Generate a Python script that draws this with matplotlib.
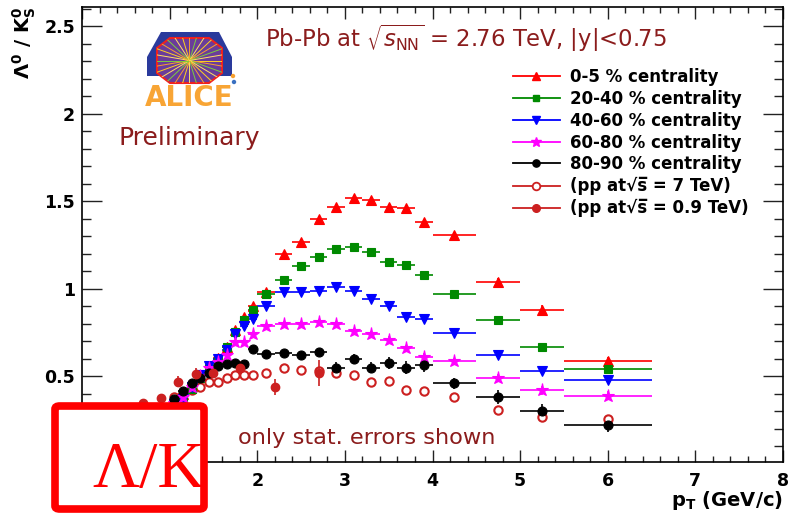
import matplotlib
matplotlib.use("Agg")
import matplotlib.pyplot as plt
from matplotlib.lines import Line2D
from matplotlib.patches import Polygon, FancyBboxPatch, Circle
from matplotlib.ticker import MultipleLocator, FuncFormatter
import numpy as np

# ---------------- data: Lambda/K0s ratio vs pT ----------------
pt = [1.05, 1.15, 1.25, 1.35, 1.45, 1.55, 1.65, 1.75, 1.85, 1.95,
      2.1, 2.3, 2.5, 2.7, 2.9, 3.1, 3.3, 3.5, 3.7, 3.9,
      4.25, 4.75, 5.25, 6.0]
pt_halfbin = [0.05, 0.05, 0.05, 0.05, 0.05, 0.05, 0.05, 0.05, 0.05, 0.05,
              0.1, 0.1, 0.1, 0.1, 0.1, 0.1, 0.1, 0.1, 0.1, 0.1,
              0.25, 0.25, 0.25, 0.5]

ratio_0_5 = [0.35, 0.40, 0.45, 0.51, 0.555, 0.605, 0.67, 0.765, 0.84, 0.90,
             0.98, 1.20, 1.27, 1.40, 1.47, 1.52, 1.51, 1.47, 1.46, 1.38,
             1.31, 1.04, 0.88, 0.59]
ratio_20_40 = [0.34, 0.36, 0.43, 0.49, 0.545, 0.60, 0.665, 0.755, 0.82, 0.88,
               0.97, 1.05, 1.13, 1.18, 1.23, 1.24, 1.21, 1.155, 1.135, 1.08,
               0.97, 0.82, 0.67, 0.54]
ratio_40_60 = [0.34, 0.37, 0.44, 0.51, 0.56, 0.60, 0.65, 0.74, 0.79, 0.83,
               0.90, 0.98, 0.98, 0.99, 1.01, 0.99, 0.94, 0.90, 0.84, 0.83,
               0.75, 0.62, 0.53, 0.48]
ratio_60_80 = [0.35, 0.38, 0.44, 0.50, 0.55, 0.58, 0.62, 0.695, 0.695, 0.74,
               0.79, 0.80, 0.80, 0.81, 0.80, 0.76, 0.74, 0.71, 0.66, 0.61,
               0.585, 0.49, 0.42, 0.39]
ratio_80_90 = [0.37, 0.415, 0.46, 0.49, 0.52, 0.56, 0.57, 0.575, 0.57, 0.655,
               0.625, 0.635, 0.62, 0.64, 0.55, 0.60, 0.55, 0.575, 0.55, 0.565,
               0.46, 0.38, 0.30, 0.22]

err_0_5 = [0.005, 0.005, 0.005, 0.006, 0.006, 0.007, 0.008, 0.009, 0.01, 0.01,
           0.01, 0.012, 0.012, 0.013, 0.014, 0.015, 0.016, 0.017, 0.018, 0.02,
           0.015, 0.02, 0.025, 0.02]
err_20_40 = [0.005, 0.005, 0.005, 0.006, 0.006, 0.007, 0.008, 0.009, 0.01, 0.01,
             0.01, 0.011, 0.012, 0.012, 0.013, 0.014, 0.015, 0.016, 0.017, 0.018,
             0.015, 0.018, 0.02, 0.02]
err_40_60 = [0.005, 0.005, 0.005, 0.006, 0.006, 0.007, 0.008, 0.009, 0.01, 0.01,
             0.01, 0.011, 0.012, 0.012, 0.013, 0.014, 0.015, 0.016, 0.017, 0.018,
             0.015, 0.018, 0.02, 0.02]
err_60_80 = [0.006, 0.006, 0.006, 0.007, 0.007, 0.008, 0.009, 0.01, 0.011, 0.012,
             0.012, 0.013, 0.014, 0.015, 0.016, 0.017, 0.018, 0.019, 0.02, 0.022,
             0.02, 0.022, 0.025, 0.025]
err_80_90 = [0.01, 0.01, 0.01, 0.01, 0.011, 0.012, 0.012, 0.013, 0.014, 0.015,
             0.015, 0.016, 0.017, 0.018, 0.03, 0.03, 0.032, 0.034, 0.036, 0.04,
             0.03, 0.04, 0.04, 0.04]

ratio_pp7 = [0.38, 0.40, 0.42, 0.44, 0.465, 0.47, 0.49, 0.505, 0.505, 0.51,
             0.52, 0.545, 0.535, 0.53, 0.52, 0.51, 0.465, 0.475, 0.42, 0.415,
             0.38, 0.31, 0.27, 0.255]

pt_pp09 = [0.7, 0.9, 1.1, 1.3, 1.5, 1.8, 2.2, 2.7]
ratio_pp09 = [0.35, 0.375, 0.47, 0.515, 0.52, 0.55, 0.44, 0.52]
err_pp09 = [0.02, 0.025, 0.03, 0.035, 0.03, 0.04, 0.045, 0.075]

labels = ["0-5 % centrality", "20-40 % centrality", "40-60 % centrality",
          "60-80 % centrality", "80-90 % centrality",
          "(pp at\u221as\u0305 = 7 TeV)", "(pp at\u221as\u0305 = 0.9 TeV)"]

# ---------------- figure ----------------
W, H = 789, 515
fig = plt.figure(figsize=(W / 100, H / 100), dpi=100)


def fx(px):
    return px / W


def fy(py):
    return 1 - py / H


ax = fig.add_axes([fx(82), fy(462), (783 - 82) / W, (462 - 7) / H])
ax.set_xlim(0, 8)
ax.set_ylim(0.01, 2.61)

styles = [
    dict(color="#ff0000", marker="^", ms=7),
    dict(color="#008a00", marker="s", ms=6),
    dict(color="#0000ff", marker="v", ms=7),
    dict(color="#ff00ff", marker="*", ms=9.5),
    dict(color="#000000", marker="o", ms=6.5),
]
series = [(ratio_0_5, err_0_5), (ratio_20_40, err_20_40), (ratio_40_60, err_40_60),
          (ratio_60_80, err_60_80), (ratio_80_90, err_80_90)]

for (vals, errs), st in zip(series, styles):
    ax.errorbar(pt, vals, xerr=pt_halfbin, yerr=errs, fmt=st["marker"],
                color=st["color"], ms=st["ms"], mec=st["color"], mfc=st["color"],
                elinewidth=1.2, capsize=0, mew=0.8)

pp_red = "#cc2020"
ax.plot(pt, ratio_pp7, linestyle="none", marker="o", ms=6, mfc="white",
        mec=pp_red, mew=1.5)
ax.errorbar(pt_pp09, ratio_pp09, yerr=err_pp09, fmt="o", color=pp_red, ms=6,
            elinewidth=1.2, capsize=0)

# ---------------- axes styling ----------------
ax.xaxis.set_major_locator(MultipleLocator(1))
ax.xaxis.set_minor_locator(MultipleLocator(0.2))
ax.yaxis.set_major_locator(MultipleLocator(0.5))
ax.yaxis.set_minor_locator(MultipleLocator(0.1))
# labels below 2 on x and at 0 on y sit under the Lambda/K box
ax.xaxis.set_major_formatter(FuncFormatter(lambda v, p: f"{v:g}" if v >= 2 else ""))
ax.yaxis.set_major_formatter(FuncFormatter(lambda v, p: f"{v:g}" if v > 0.2 else ""))
ax.tick_params(axis="both", which="both", direction="in", top=True, right=True,
               width=1.0, color="#222222")
ax.tick_params(axis="x", which="major", length=8.6, pad=7)
ax.tick_params(axis="x", which="minor", length=4.3)
ax.tick_params(axis="y", which="major", length=14.4, pad=5)
ax.tick_params(axis="y", which="minor", length=6.5)
for lab in ax.get_xticklabels() + ax.get_yticklabels():
    lab.set_fontweight("bold")
    lab.set_fontsize(12.5)
for sp in ax.spines.values():
    sp.set_linewidth(1.2)

ax.set_xlabel(r"$\mathbf{p_{T}}$ (GeV/c)", fontsize=14, fontweight="bold", loc="right")
ax.xaxis.set_label_coords(1.0, -0.059)
ax.set_ylabel(r"$\mathbf{\Lambda^{0}}$ / $\mathbf{K^{0}_{S}}$", fontsize=14,
              fontweight="bold", loc="top")
ax.yaxis.set_label_coords(-0.063, 1.0)

# ---------------- legend ----------------
handles = [Line2D([0], [0], color=st["color"], marker=st["marker"], ms=st["ms"] * 0.8,
                  lw=1.3) for st in styles]
handles.append(Line2D([0], [0], color=pp_red, marker="o", ms=5.5, mfc="white",
                      mew=1.3, lw=1.3))
handles.append(Line2D([0], [0], color=pp_red, marker="o", ms=5.5, lw=1.3))
ax.legend(handles, labels, loc="upper left", bbox_to_anchor=(fx(513), fy(68)),
          bbox_transform=fig.transFigure, frameon=False, borderpad=0,
          borderaxespad=0, handlelength=2.8, handletextpad=0.6,
          labelspacing=0.23, prop={"weight": "bold", "size": 12})

# ---------------- annotations ----------------
dark_red = "#8b1c1c"
fig.text(fx(265), fy(38), r"Pb-Pb at $\sqrt{s_{\rm NN}}$ = 2.76 TeV, |y|<0.75",
         color=dark_red, fontsize=16.4, va="center")
fig.text(fx(118), fy(138), "Preliminary", color=dark_red, fontsize=18, va="center")
fig.text(fx(238), fy(438), "only stat. errors shown", color=dark_red, fontsize=16.2,
         va="center")

# ---------------- experiment logo ----------------
lg = fig.add_axes([fx(128), fy(112), 122 / W, 84 / H])
lg.set_xlim(128, 250)
lg.set_ylim(112, 28)
lg.axis("off")
lg.add_patch(Polygon([(147, 76), (147, 57), (161, 32), (219, 32), (232, 57), (232, 76)],
                     closed=True, fc="#2a3a9c", ec="none"))
octagon = Polygon([(170, 38), (209, 38), (222, 48), (222, 73), (209, 83), (170, 83),
                   (157, 73), (157, 48)], closed=True, fc="#6a3c9a", ec="#ee2020", lw=1.5)
lg.add_patch(octagon)
ray_colors = ["#ffd21f", "#f7a030", "#7dcf3a", "#ffe066"]
for i, ang in enumerate(np.linspace(0, 2 * np.pi, 28, endpoint=False)):
    ln, = lg.plot([189.5, 189.5 + 40 * np.cos(ang)], [60.5, 60.5 + 30 * np.sin(ang)],
                  color=ray_colors[i % 4], lw=0.7)
    ln.set_clip_path(octagon)
lg.add_patch(Circle((233, 76), 2.2, fc="#f7a030", ec="none"))
lg.add_patch(Circle((234, 82), 2.2, fc="#3a70c0", ec="none"))
lg.text(189, 98, "ALICE", color="#f8a535", fontsize=20, fontweight="bold",
        ha="center", va="center")

# ---------------- Lambda/K box ----------------
box = FancyBboxPatch((fx(55), fy(509)), (204 - 55) / W, (509 - 406) / H,
                     boxstyle="round,pad=0,rounding_size=0.006",
                     transform=fig.transFigure, fc="white", ec="#ff0000", lw=5.5,
                     zorder=20)
fig.add_artist(box)
fig.text(fx(92), fy(487), "Λ/K", family="Liberation Serif", fontsize=47,
         color="#ff0000", ha="left", va="baseline", zorder=21)

fig.savefig("out.png", dpi=100)
